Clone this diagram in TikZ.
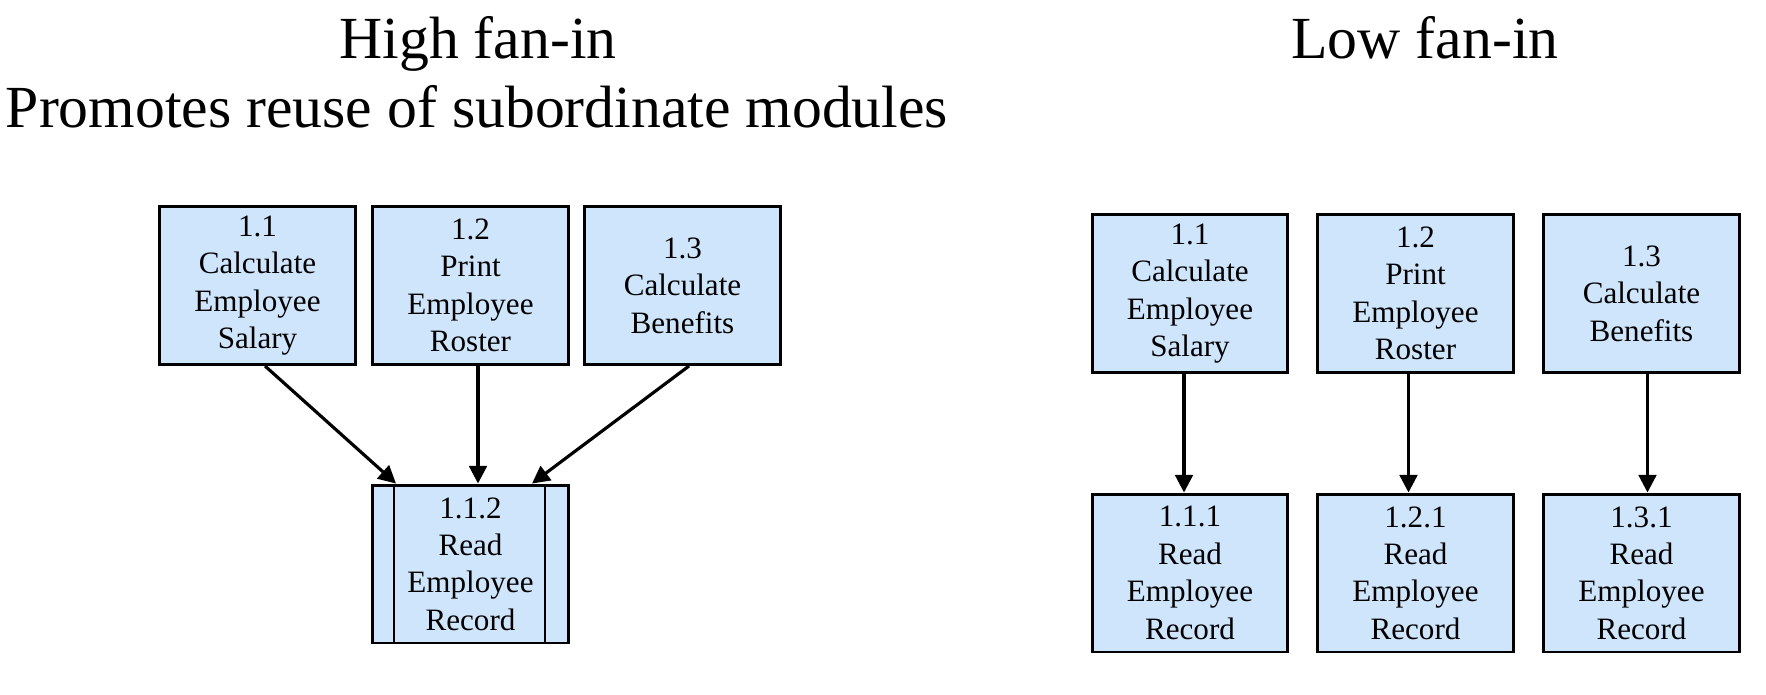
\documentclass[tikz,border=0pt]{standalone}
\usepackage{fontspec}
\setmainfont{Liberation Serif}
\usetikzlibrary{arrows.meta}
\definecolor{boxblue}{RGB}{207,229,252}
\tikzset{
  module/.style={draw, line width=1.7pt, fill=boxblue, minimum width=3.92cm,
    minimum height=3.16cm, align=center, inner sep=0pt,
    font=\fontsize{17.7}{21.3}\selectfont},
  call/.style={line width=1.8pt, -{Triangle[width=10pt,length=10pt]}},
  heading/.style={anchor=base, font=\fontsize{34}{40}\selectfont}
}
\begin{document}
\begin{tikzpicture}[x=0.02cm, y=-0.02cm]
  \useasboundingbox (0, 0) rectangle (1766, 694);
  % headings
  \node[heading] (hi) at (478, 58) {High fan-in};
  \node[heading] (reuse) at (477, 127) {Promotes reuse of subordinate modules};
  \node[heading] (lo) at (1425, 58) {Low fan-in};

  % high fan-in
  \node[module] (b11) at (257.5, 285.5) {1.1\\Calculate\\Employee\\Salary};
  \node[module] (b12) at (470.5, 285.5) {1.2\\Print\\Employee\\Roster};
  \node[module] (b13) at (682.5, 285.5) {1.3\\Calculate\\Benefits};
  \node[module] (b112) at (470.5, 564) {1.1.2\\Read\\Employee\\Record};
  \draw[line width=1.6pt] ([xshift=0.46cm]b112.north west) -- ([xshift=0.46cm]b112.south west);
  \draw[line width=1.6pt] ([xshift=-0.5cm]b112.north east) -- ([xshift=-0.5cm]b112.south east);
  \draw[call] ([xshift=0.15cm]b11.south) -- ([xshift=0.5cm]b112.north west);
  \draw[call] ([xshift=0.15cm]b12.south) -- ([xshift=0.15cm]b112.north);
  \draw[call] ([xshift=0.13cm]b13.south) -- ([xshift=-0.76cm]b112.north east);

  % low fan-in
  \node[module] (c11) at (1190, 293.5) {1.1\\Calculate\\Employee\\Salary};
  \node[module] (c12) at (1415.5, 293.5) {1.2\\Print\\Employee\\Roster};
  \node[module] (c13) at (1641.5, 293.5) {1.3\\Calculate\\Benefits};
  \node[module] (c111) at (1190, 573) {1.1.1\\Read\\Employee\\Record};
  \node[module] (c121) at (1415.5, 573) {1.2.1\\Read\\Employee\\Record};
  \node[module] (c131) at (1641.5, 573) {1.3.1\\Read\\Employee\\Record};
  \foreach \a/\b/\s in {c11/c111/-0.12cm, c12/c121/-0.14cm, c13/c131/0.12cm}
    \draw[call] ([xshift=\s]\a.south) -- ([xshift=\s]\b.north);
\end{tikzpicture}
\end{document}
